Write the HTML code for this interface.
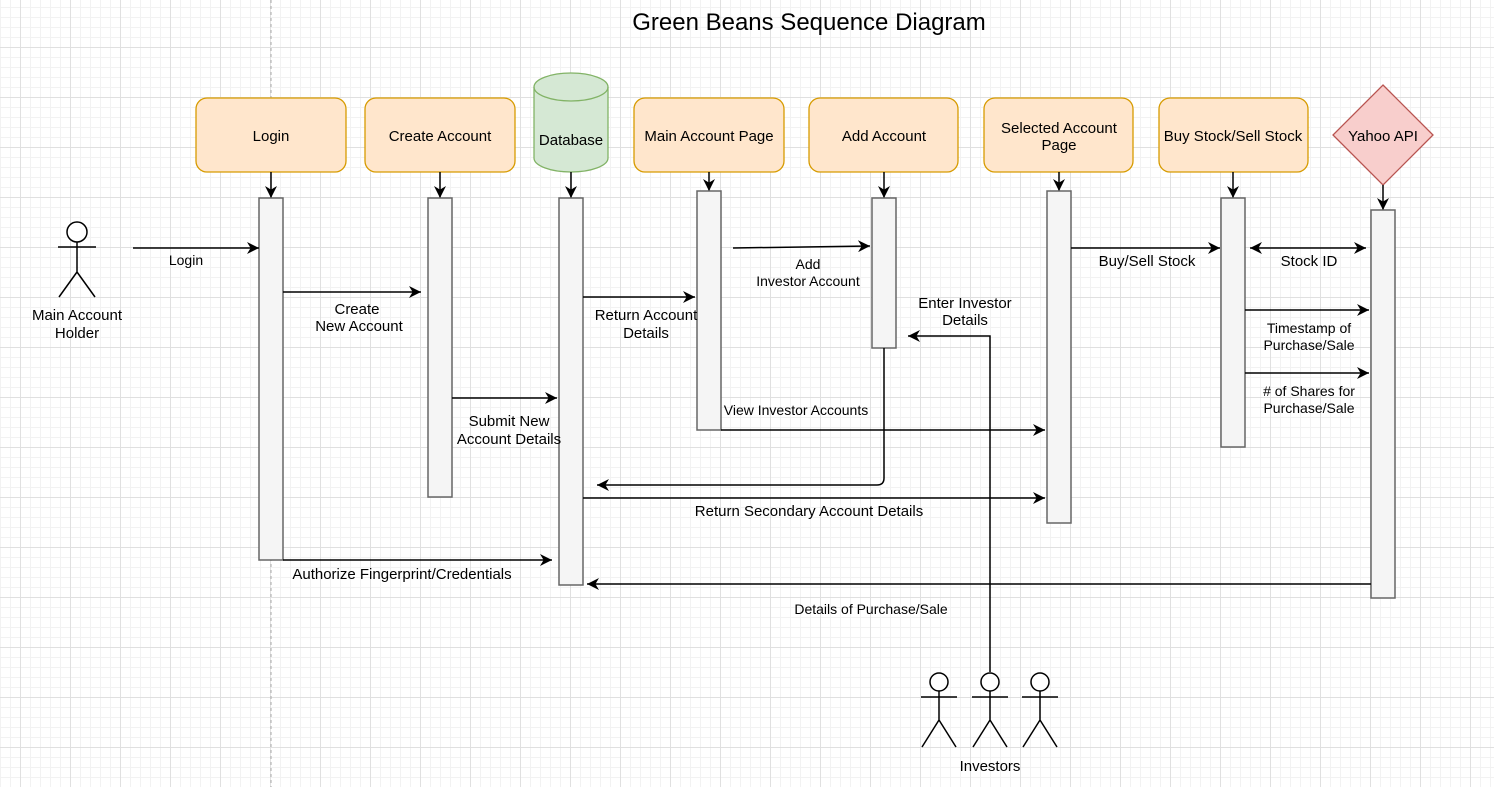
<!DOCTYPE html>
<html><head><meta charset="utf-8"><style>
html,body{margin:0;padding:0;}
body{width:1494px;height:787px;overflow:hidden;background:#fff;
background-image:linear-gradient(#e0e0e0 1px,transparent 1px),linear-gradient(90deg,#e0e0e0 1px,transparent 1px),linear-gradient(#f2f2f2 1px,transparent 1px),linear-gradient(90deg,#f2f2f2 1px,transparent 1px);
background-size:50px 50px,50px 50px,10px 10px,10px 10px;
background-position:0 47px,20px 0,0 7px,0 0;}
svg{position:absolute;left:0;top:0;font-family:"Liberation Sans",sans-serif;}
</style></head><body>
<svg width="1494" height="787" viewBox="0 0 1494 787">
<defs>
<marker id="a" viewBox="0 0 10 10" refX="10" refY="5" markerWidth="12" markerHeight="12" markerUnits="userSpaceOnUse" orient="auto-start-reverse">
<path d="M0,0 L10,5 L0,10 L3,5 z" fill="#000"/></marker>
</defs>
<line x1="271" y1="0" x2="271" y2="787" stroke="#aaa" stroke-dasharray="3,3"/>
<text x="809" y="30" font-size="24" text-anchor="middle">Green Beans Sequence Diagram</text>
<g fill="#ffe6cc" stroke="#d79b00" stroke-width="1.3">
<rect x="196" y="98" width="150" height="74" rx="11"/>
<rect x="365" y="98" width="150" height="74" rx="11"/>
<rect x="634" y="98" width="150" height="74" rx="11"/>
<rect x="809" y="98" width="149" height="74" rx="11"/>
<rect x="984" y="98" width="149" height="74" rx="11"/>
<rect x="1159" y="98" width="149" height="74" rx="11"/>
</g>
<path d="M534,87 A37,14 0 0 1 608,87 L608,158 A37,14 0 0 1 534,158 Z" fill="#d5e8d4" stroke="#82b366" stroke-width="1.3"/>
<path d="M534,87 A37,14 0 0 0 608,87" fill="none" stroke="#82b366" stroke-width="1.3"/>
<polygon points="1383,85 1433,135 1383,185 1333,135" fill="#f8cecc" stroke="#b85450" stroke-width="1.3"/>
<g font-size="15" text-anchor="middle">
<text x="271" y="141">Login</text>
<text x="440" y="141">Create Account</text>
<text x="571" y="145">Database</text>
<text x="709" y="141">Main Account Page</text>
<text x="884" y="141">Add Account</text>
<text x="1059" y="133">Selected Account</text>
<text x="1059" y="150">Page</text>
<text x="1233" y="141">Buy Stock/Sell Stock</text>
<text x="1383" y="141">Yahoo API</text>
</g>
<g stroke="#000" stroke-width="1.5" fill="none" marker-end="url(#a)">
<line x1="271" y1="172" x2="271" y2="198"/>
<line x1="440" y1="172" x2="440" y2="198"/>
<line x1="571" y1="172" x2="571" y2="198"/>
<line x1="709" y1="172" x2="709" y2="191"/>
<line x1="884" y1="172" x2="884" y2="198"/>
<line x1="1059" y1="172" x2="1059" y2="191"/>
<line x1="1233" y1="172" x2="1233" y2="198"/>
<line x1="1383" y1="185" x2="1383" y2="210"/>
</g>
<g fill="#f5f5f5" stroke="#666" stroke-width="1.5">
<rect x="259" y="198" width="24" height="362"/>
<rect x="428" y="198" width="24" height="299"/>
<rect x="559" y="198" width="24" height="387"/>
<rect x="697" y="191" width="24" height="239"/>
<rect x="872" y="198" width="24" height="150"/>
<rect x="1047" y="191" width="24" height="332"/>
<rect x="1221" y="198" width="24" height="249"/>
<rect x="1371" y="210" width="24" height="388"/>
</g>
<g stroke="#000" stroke-width="1.5" fill="none" marker-end="url(#a)">
<line x1="133" y1="248" x2="259" y2="248"/>
<line x1="283" y1="292" x2="421" y2="292"/>
<line x1="452" y1="398" x2="557" y2="398"/>
<line x1="583" y1="297" x2="695" y2="297"/>
<line x1="733" y1="248" x2="870" y2="246"/>
<line x1="1071" y1="248" x2="1220" y2="248"/>
<line x1="1250" y1="248" x2="1366" y2="248" marker-start="url(#a)"/>
<line x1="1245" y1="310" x2="1369" y2="310"/>
<line x1="1245" y1="373" x2="1369" y2="373"/>
<line x1="721" y1="430" x2="1045" y2="430"/>
<path d="M884,348 L884,478 Q884,485 877,485 L597,485"/>
<line x1="583" y1="498" x2="1045" y2="498"/>
<line x1="283" y1="560" x2="552" y2="560"/>
<line x1="1371" y1="584" x2="587" y2="584"/>
<path d="M990,672 L990,336 L908,336"/>
</g>
<g stroke="#000" stroke-width="1.5" fill="#fff">
<circle cx="77" cy="232" r="10"/>
<path d="M77,242 V272 M58,247 H96 M77,272 L59,297 M77,272 L95,297" fill="none"/>
<circle cx="939" cy="682" r="9"/>
<path d="M939,691 V720 M921,697 H957 M939,720 L922,747 M939,720 L956,747" fill="none"/>
<circle cx="990" cy="682" r="9"/>
<path d="M990,691 V720 M972,697 H1008 M990,720 L973,747 M990,720 L1007,747" fill="none"/>
<circle cx="1040" cy="682" r="9"/>
<path d="M1040,691 V720 M1022,697 H1058 M1040,720 L1023,747 M1040,720 L1057,747" fill="none"/>
</g>
<g font-size="15" text-anchor="middle">
<text x="77" y="320">Main Account</text>
<text x="77" y="338">Holder</text>
<text x="186" y="265" font-size="14">Login</text>
<text x="357" y="314">Create</text>
<text x="359" y="331">New Account</text>
<text x="509" y="426">Submit New</text>
<text x="509" y="444">Account Details</text>
<text x="646" y="320">Return Account</text>
<text x="646" y="338">Details</text>
<text x="808" y="269" font-size="14">Add</text>
<text x="808" y="286" font-size="14">Investor Account</text>
<text x="965" y="308">Enter Investor</text>
<text x="965" y="325">Details</text>
<text x="1147" y="266">Buy/Sell Stock</text>
<text x="1309" y="266">Stock ID</text>
<text x="1309" y="333" font-size="14">Timestamp of</text>
<text x="1309" y="350" font-size="14">Purchase/Sale</text>
<text x="1309" y="396" font-size="14">&#35; of Shares for</text>
<text x="1309" y="413" font-size="14">Purchase/Sale</text>
<text x="796" y="415" font-size="14">View Investor Accounts</text>
<text x="809" y="516">Return Secondary Account Details</text>
<text x="402" y="579">Authorize Fingerprint/Credentials</text>
<text x="871" y="614" font-size="14">Details of Purchase/Sale</text>
<text x="990" y="771">Investors</text>
</g>
</svg>
</body></html>
